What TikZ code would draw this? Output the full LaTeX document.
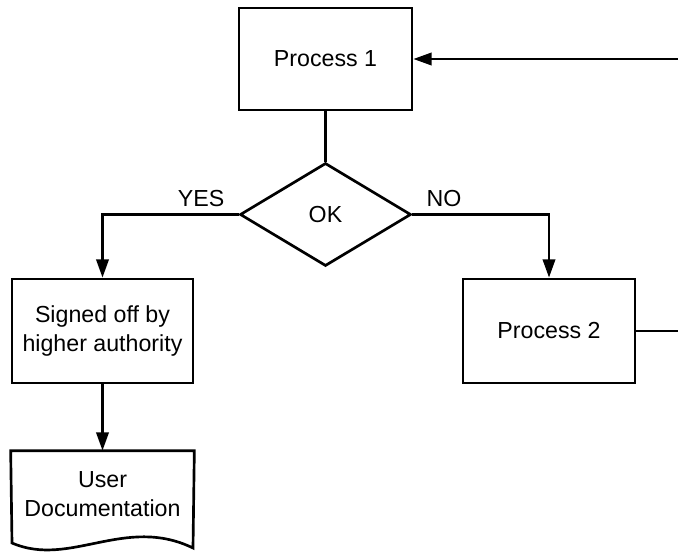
\documentclass[tikz,border=0pt]{standalone}
\usepackage{fontspec}
\setmainfont{Liberation Sans}
\usetikzlibrary{shapes.geometric, arrows.meta}

\begin{document}
\begin{tikzpicture}
            [>={Triangle[length=0.46cm, width=0.31cm]}, line width=1.9pt,
             font=\fontsize{16.5}{20.8}\selectfont,
             proc/.style={shape=rectangle, draw=black, align=center, inner sep=0pt},
             decide/.style={shape=diamond, draw=black, inner sep=0pt, minimum width=4.275cm, minimum height=2.575cm},
             branch/.style={inner sep=0pt}]
            \useasboundingbox (0, 0) rectangle (16.95, -13.975);

            \node[proc, minimum width=4.325cm, minimum height=2.55cm] (proc1) at (8.1375, -1.475) {Process 1};
            \node[decide] (ok) at (8.1375, -5.3625) {OK};
            \node[proc, minimum width=4.525cm, minimum height=2.6cm] (signed) at (2.5625, -8.275) {Signed off by\\higher authority};
            \node[proc, minimum width=4.3cm, minimum height=2.6cm] (proc2) at (13.725, -8.275) {Process 2};
            \node[proc, draw=none, minimum width=4.525cm, minimum height=2.1cm] (userdoc) at (2.5625, -12.35) {User\\Documentation};
            \coordinate (back1) at (16.95, -1.475);
            \coordinate (back2) at (16.95, -8.275);

            % document outline, wavy bottom
            \draw (userdoc.north west) -- (userdoc.north east) -- (4.825, -13.7)
                .. controls (3.125, -12.875) and (1.75, -14.2) .. (0.3, -13.575) -- cycle;

            \path (proc1) edge (ok);
            \draw [->] (ok.west) node[branch, anchor=base east, xshift=-0.325cm, yshift=0.2cm] (yes) {YES} -| (signed.north);
            \draw [->] (ok.east) node[branch, anchor=base west, xshift=0.325cm, yshift=0.2cm] (no) {NO} -| (proc2.north);
            \path [->] (signed) edge (userdoc);
            \draw (proc2.east) -- (back2);
            \draw [->] (back1) -- (proc1.east);
        \end{tikzpicture}
\end{document}
